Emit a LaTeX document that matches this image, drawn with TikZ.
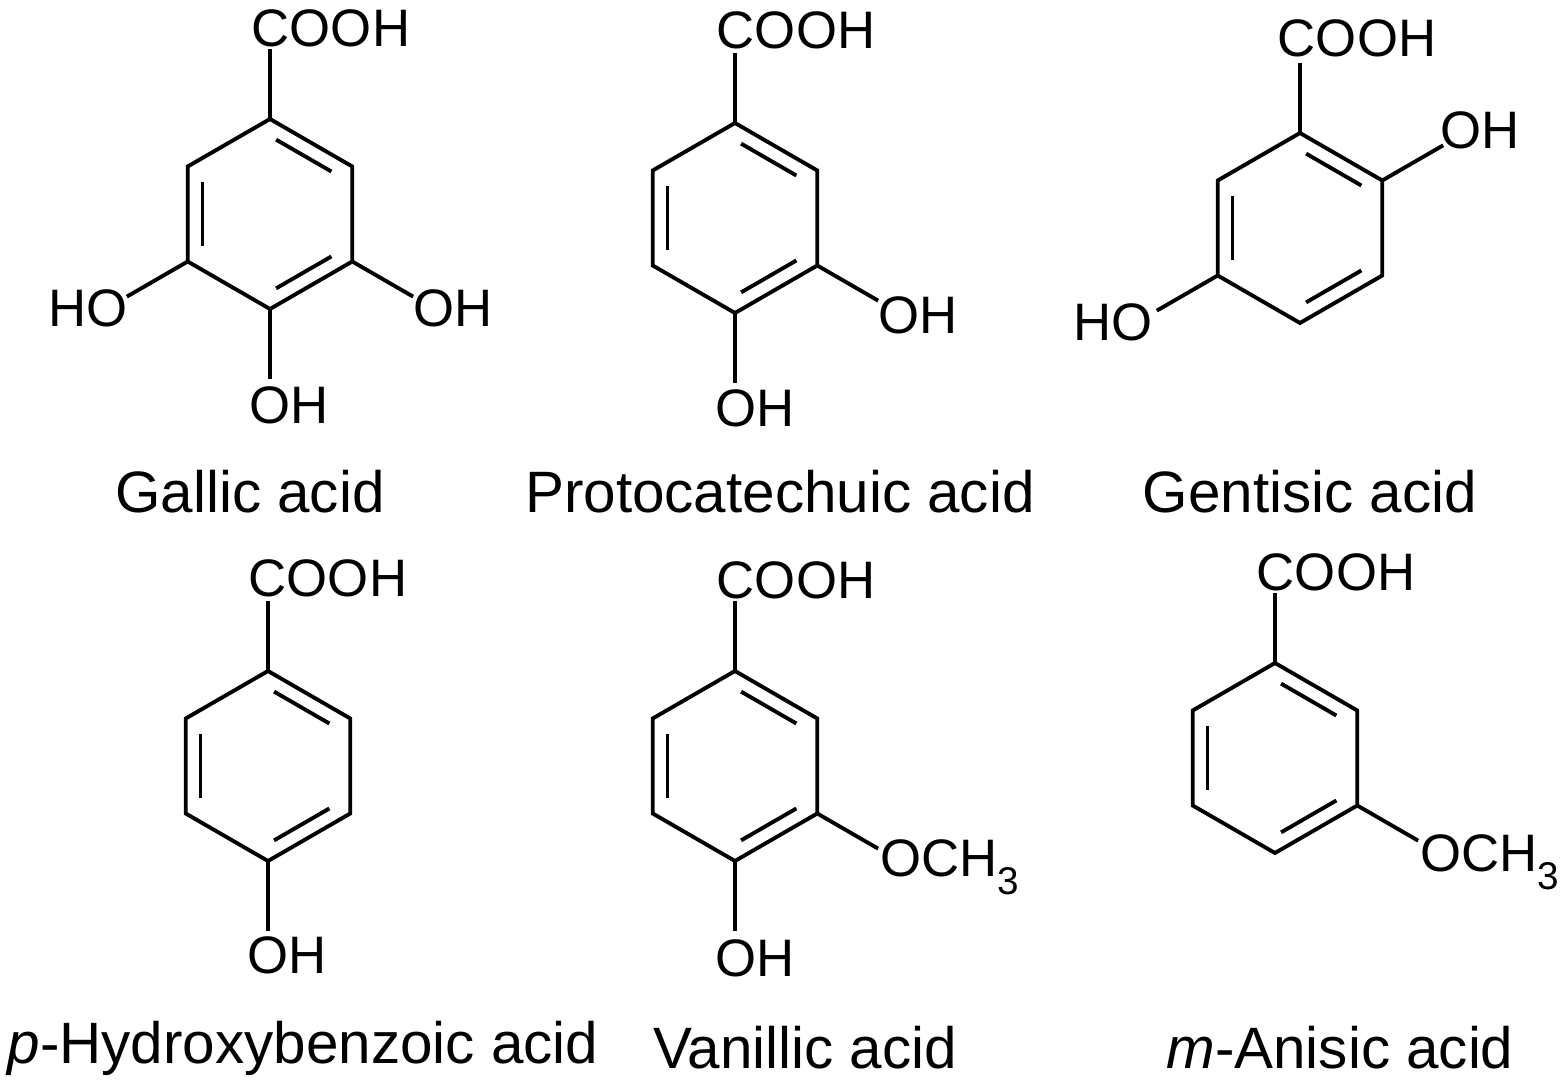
\documentclass[tikz,border=0pt]{standalone}
\usepackage{fontspec}
\setmainfont{Liberation Sans}
\usetikzlibrary{calc}
\tikzset{
  bond/.style = {line width=1.1pt},
  atoms/.style = {font=\fontsize{15}{15}\selectfont, inner sep=0pt},
  molname/.style = {font=\fontsize{16.6}{17}\selectfont, inner sep=0pt}
}
% ring with three inner double bonds
\newcommand{\benzene}[3]{%
  \coordinate (#10) at (#2,#3);
  \foreach \i/\a in {1/-90,2/-30,3/30,4/90,5/150,6/210}
    \coordinate (#1\i) at ($(#10)+(\a:95)$);
  \draw[bond] (#11) -- (#12) -- (#13) -- (#14) -- (#15) -- (#16) -- cycle;
  \foreach \i/\j in {1/2,3/4,5/6}
    \draw[bond, shorten <=2pt, shorten >=2pt] ($(#10)!0.82!(#1\i)$) -- ($(#10)!0.82!(#1\j)$);
}
\newcommand{\subst}[2]{\coordinate (#1#2e) at ($(#10)!1.74!(#1#2)$); \draw[bond] (#1#2) -- (#1#2e);}
\newcommand{\methoxy}{OCH{\fontsize{11}{11}\selectfont\raisebox{-5pt}{3}}}
\begin{document}
\begin{tikzpicture}[x=0.01cm, y=-0.01cm]
  \useasboundingbox (0,0) rectangle (1568,1088);
  % Gallic acid
  \benzene{g}{270}{214}
  \subst{g}{1} \subst{g}{5} \subst{g}{3} \subst{g}{4}
  \node[atoms] (gC) at (331,28) {COOH};
  \node[atoms] (gO5) at (88,308) {HO};
  \node[atoms] (gO3) at (453,308) {OH};
  \node[atoms] (gO4) at (289,405) {OH};
  \node[molname] (gN) at (250,492) {Gallic acid};
  % Protocatechuic acid
  \benzene{p}{735}{218}
  \subst{p}{1} \subst{p}{3} \subst{p}{4}
  \node[atoms] (pC) at (796,30) {COOH};
  \node[atoms] (pO3) at (918,315) {OH};
  \node[atoms] (pO4) at (755,408) {OH};
  \node[molname] (pN) at (780,492) {Protocatechuic acid};
  % Gentisic acid
  \benzene{t}{1300}{228}
  \subst{t}{1} \subst{t}{2} \subst{t}{5}
  \node[atoms] (tC) at (1357,38) {COOH};
  \node[atoms] (tO2) at (1480,130) {OH};
  \node[atoms] (tO5) at (1113,322) {HO};
  \node[molname] (tN) at (1310,492) {Gentisic acid};
  % p-Hydroxybenzoic acid
  \benzene{h}{268}{766}
  \subst{h}{1} \subst{h}{4}
  \node[atoms] (hC) at (328,578) {COOH};
  \node[atoms] (hO4) at (287,955) {OH};
  \node[molname] (hN) at (303,1048) {\textit{p}-Hydroxybenzoic acid};
  % Vanillic acid
  \benzene{v}{735}{766}
  \subst{v}{1} \subst{v}{3} \subst{v}{4}
  \node[atoms] (vC) at (796,580) {COOH};
  \node[atoms, anchor=base west] (vM) at (880,877) {\methoxy};
  \node[atoms] (vO4) at (755,958) {OH};
  \node[molname] (vN) at (805,1048) {Vanillic acid};
  % m-Anisic acid
  \benzene{a}{1275}{758}
  \subst{a}{1} \subst{a}{3}
  \node[atoms] (aC) at (1336,572) {COOH};
  \node[atoms, anchor=base west] (aM) at (1420,872) {\methoxy};
  \node[molname] (aN) at (1340,1048) {\textit{m}-Anisic acid};
\end{tikzpicture}
\end{document}
